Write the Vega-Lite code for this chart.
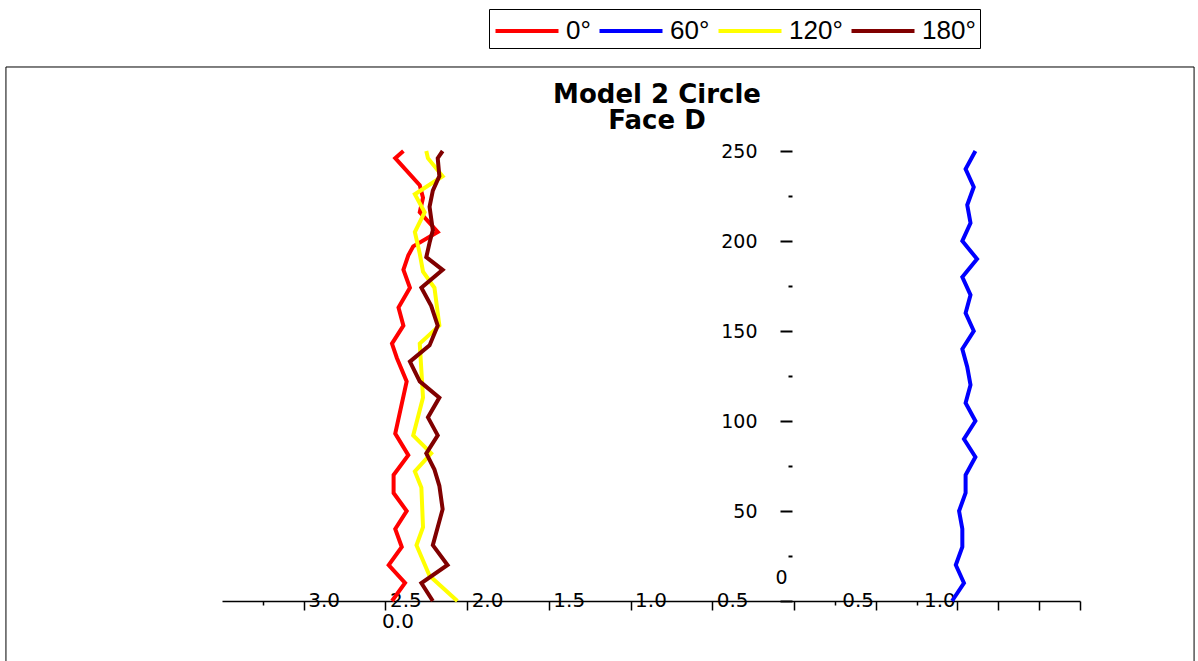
{
  "$schema": "https://vega.github.io/schema/vega-lite/v6.json",
  "autosize": "none",
  "width": 858,
  "height": 450,
  "padding": {"left": 222, "top": 151, "right": 118, "bottom": 60},
  "background": "white",
  "config": {"view": {"stroke": null}},
  "title": {"text": ["Model 2 Circle", "Face D"], "font": "DejaVu Sans", "fontSize": 26, "fontWeight": "bold", "color": "black", "anchor": "middle", "dx": 6, "baseline": "top", "offset": -125, "lineHeight": 26},
  "layer": [
    {
      "data": {"values": [{}]},
      "mark": {"type": "rect", "filled": false, "color": "black", "strokeWidth": 1},
      "encoding": {
        "x": {"datum": -4.822, "type": "quantitative", "scale": {"domain": [-3.5, 1.75], "nice": false, "zero": false}},
        "x2": {"datum": 2.448},
        "y": {"datum": 296.67, "type": "quantitative", "scale": {"domain": [0, 250], "nice": false, "zero": false}},
        "y2": {"datum": -40}
      }
    },
    {
      "data": {"values": [
        {"angle": "0°", "y": 0, "x": -2.46}, {"angle": "0°", "y": 10, "x": -2.38}, {"angle": "0°", "y": 20, "x": -2.48}, {"angle": "0°", "y": 30, "x": -2.40}, {"angle": "0°", "y": 40, "x": -2.44}, {"angle": "0°", "y": 50, "x": -2.37}, {"angle": "0°", "y": 60, "x": -2.45}, {"angle": "0°", "y": 70, "x": -2.45}, {"angle": "0°", "y": 81, "x": -2.36}, {"angle": "0°", "y": 93, "x": -2.44}, {"angle": "0°", "y": 122, "x": -2.37}, {"angle": "0°", "y": 135, "x": -2.43}, {"angle": "0°", "y": 143, "x": -2.46}, {"angle": "0°", "y": 153, "x": -2.39}, {"angle": "0°", "y": 163, "x": -2.42}, {"angle": "0°", "y": 174, "x": -2.35}, {"angle": "0°", "y": 184, "x": -2.39}, {"angle": "0°", "y": 192, "x": -2.36}, {"angle": "0°", "y": 197, "x": -2.33}, {"angle": "0°", "y": 205, "x": -2.18}, {"angle": "0°", "y": 216, "x": -2.29}, {"angle": "0°", "y": 224, "x": -2.27}, {"angle": "0°", "y": 231, "x": -2.29}, {"angle": "0°", "y": 246, "x": -2.44}, {"angle": "0°", "y": 250, "x": -2.39},
        {"angle": "60°", "y": 0, "x": 0.967}, {"angle": "60°", "y": 10, "x": 1.04}, {"angle": "60°", "y": 20, "x": 0.99}, {"angle": "60°", "y": 30, "x": 1.03}, {"angle": "60°", "y": 40, "x": 1.03}, {"angle": "60°", "y": 50, "x": 1.01}, {"angle": "60°", "y": 60, "x": 1.05}, {"angle": "60°", "y": 70, "x": 1.05}, {"angle": "60°", "y": 80, "x": 1.11}, {"angle": "60°", "y": 90, "x": 1.04}, {"angle": "60°", "y": 100, "x": 1.11}, {"angle": "60°", "y": 110, "x": 1.05}, {"angle": "60°", "y": 120, "x": 1.08}, {"angle": "60°", "y": 130, "x": 1.06}, {"angle": "60°", "y": 140, "x": 1.03}, {"angle": "60°", "y": 150, "x": 1.10}, {"angle": "60°", "y": 160, "x": 1.05}, {"angle": "60°", "y": 170, "x": 1.08}, {"angle": "60°", "y": 180, "x": 1.03}, {"angle": "60°", "y": 190, "x": 1.12}, {"angle": "60°", "y": 200, "x": 1.03}, {"angle": "60°", "y": 210, "x": 1.08}, {"angle": "60°", "y": 220, "x": 1.06}, {"angle": "60°", "y": 230, "x": 1.10}, {"angle": "60°", "y": 240, "x": 1.05}, {"angle": "60°", "y": 250, "x": 1.11},
        {"angle": "120°", "y": 0, "x": -2.06}, {"angle": "120°", "y": 14, "x": -2.23}, {"angle": "120°", "y": 31, "x": -2.31}, {"angle": "120°", "y": 41, "x": -2.27}, {"angle": "120°", "y": 63, "x": -2.28}, {"angle": "120°", "y": 72, "x": -2.32}, {"angle": "120°", "y": 82, "x": -2.22}, {"angle": "120°", "y": 92, "x": -2.33}, {"angle": "120°", "y": 113, "x": -2.27}, {"angle": "120°", "y": 128, "x": -2.28}, {"angle": "120°", "y": 143, "x": -2.29}, {"angle": "120°", "y": 153, "x": -2.17}, {"angle": "120°", "y": 174, "x": -2.20}, {"angle": "120°", "y": 183, "x": -2.27}, {"angle": "120°", "y": 193, "x": -2.29}, {"angle": "120°", "y": 205, "x": -2.32}, {"angle": "120°", "y": 216, "x": -2.26}, {"angle": "120°", "y": 226, "x": -2.32}, {"angle": "120°", "y": 236, "x": -2.15}, {"angle": "120°", "y": 246, "x": -2.24}, {"angle": "120°", "y": 250, "x": -2.25},
        {"angle": "180°", "y": 0, "x": -2.21}, {"angle": "180°", "y": 10, "x": -2.28}, {"angle": "180°", "y": 20, "x": -2.12}, {"angle": "180°", "y": 31, "x": -2.21}, {"angle": "180°", "y": 51, "x": -2.15}, {"angle": "180°", "y": 64, "x": -2.17}, {"angle": "180°", "y": 73, "x": -2.20}, {"angle": "180°", "y": 82, "x": -2.25}, {"angle": "180°", "y": 92, "x": -2.18}, {"angle": "180°", "y": 102, "x": -2.24}, {"angle": "180°", "y": 113, "x": -2.17}, {"angle": "180°", "y": 122, "x": -2.29}, {"angle": "180°", "y": 133, "x": -2.35}, {"angle": "180°", "y": 142, "x": -2.23}, {"angle": "180°", "y": 153, "x": -2.18}, {"angle": "180°", "y": 164, "x": -2.22}, {"angle": "180°", "y": 174, "x": -2.28}, {"angle": "180°", "y": 184, "x": -2.15}, {"angle": "180°", "y": 191, "x": -2.25}, {"angle": "180°", "y": 199, "x": -2.23}, {"angle": "180°", "y": 206, "x": -2.21}, {"angle": "180°", "y": 219, "x": -2.23}, {"angle": "180°", "y": 228, "x": -2.21}, {"angle": "180°", "y": 236, "x": -2.17}, {"angle": "180°", "y": 246, "x": -2.18}, {"angle": "180°", "y": 250, "x": -2.15}
      ]},
      "mark": {"type": "line", "strokeWidth": 4, "strokeJoin": "miter"},
      "encoding": {
        "x": {"field": "x", "type": "quantitative", "scale": {"domain": [-3.5, 1.75], "nice": false, "zero": false},
          "axis": {"orient": "bottom", "title": null, "grid": false,
            "values": [-3.25, -3, -2.5, -2, -1.5, -1, -0.5, 0, 0.25, 0.5, 0.75, 1, 1.25, 1.5, 1.75],
            "domainColor": "black", "domainWidth": 1.5, "tickColor": "black", "tickWidth": 1.5,
            "tickSize": {"condition": {"test": "datum.value == -3.25 || datum.value == 0.25 || datum.value == 0.75", "value": 4}, "value": 9},
            "labelExpr": "indexof([-3,-2.5,-2,-1.5,-1,-0.5,0.5,1], datum.value) >= 0 ? format(abs(datum.value), '.1f') : ''",
            "labelAlign": "left", "labelBaseline": "middle", "labelPadding": -10,
            "labelOffset": {"condition": {"test": "datum.value > 0", "value": -34}, "value": 4},
            "labelFont": "DejaVu Sans", "labelFontSize": 20, "labelColor": "black",
            "labelOverlap": false, "labelBound": false, "labelFlush": false}},
        "y": {"field": "y", "type": "quantitative", "scale": {"domain": [0, 250], "nice": false, "zero": false},
          "axis": {"orient": "left", "offset": -570, "title": null, "grid": false, "domain": false,
            "values": [0, 25, 50, 75, 100, 125, 150, 175, 200, 225, 250],
            "tickColor": "black", "tickWidth": 2,
            "tickSize": {"condition": {"test": "datum.value % 50 != 0", "value": 4}, "value": 12},
            "labelExpr": "datum.value % 50 == 0 ? datum.label : ''",
            "labelFont": "DejaVu Sans", "labelFontSize": 19, "labelColor": "black",
            "labelPadding": {"condition": {"test": "datum.value == 0", "value": -7}, "value": 23},
            "labelOffset": {"condition": {"test": "datum.value == 0", "value": -24}, "value": 0},
            "labelOverlap": false, "labelBound": false}},
        "color": {"field": "angle", "type": "nominal",
          "scale": {"domain": ["0°", "60°", "120°", "180°"], "range": ["#FF0000", "#0000FF", "#FFFF00", "#800000"]},
          "legend": {"orient": "none", "legendX": 267, "legendY": -142, "direction": "horizontal", "title": null,
            "symbolType": "M-2,0H2", "symbolSize": 992, "symbolStrokeWidth": 4, "symbolOffset": 16,
            "labelFont": "Liberation Sans", "labelFontSize": 26, "labelColor": "black", "labelOffset": 21,
            "columnPadding": 0, "padding": 4, "strokeColor": "black", "fillColor": "white"}},
        "order": {"field": "y", "type": "quantitative"}
      }
    },
    {
      "data": {"values": [{"label": "0.0", "x": -2.423, "y": 0}]},
      "mark": {"type": "text", "font": "DejaVu Sans", "fontSize": 20, "dy": 21, "color": "black"},
      "encoding": {
        "x": {"field": "x", "type": "quantitative"},
        "y": {"field": "y", "type": "quantitative"},
        "text": {"field": "label"}
      }
    }
  ]
}
